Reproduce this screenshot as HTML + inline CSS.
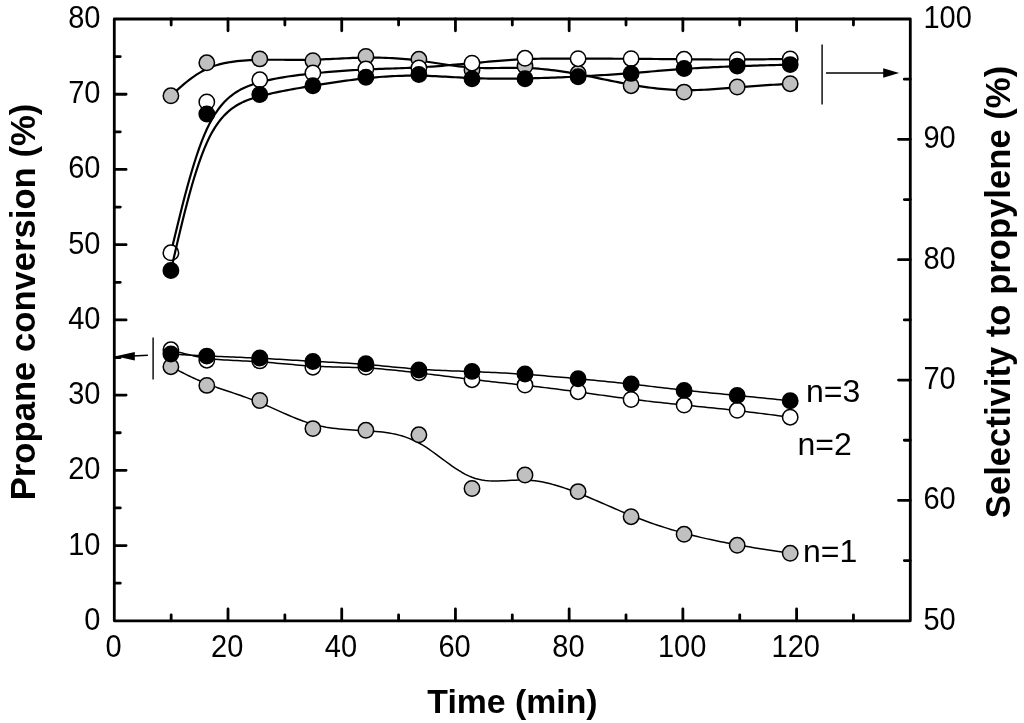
<!DOCTYPE html>
<html lang="en"><head><meta charset="utf-8"><title>Propane conversion and selectivity vs time</title>
<style>html,body{margin:0;padding:0;background:#fff}body{width:1024px;height:723px;overflow:hidden}svg{display:block}text{font-family:"Liberation Sans",Arial,Helvetica,sans-serif;fill:#000}.tk{font-size:29px}.ti{font-size:34.65px;font-weight:bold}.an{font-size:32px}</style></head><body>
<svg width="1024" height="723" viewBox="0 0 1024 723">
<rect width="1024" height="723" fill="#fff"/>
<g id="series">
<path d="M170.90 95.80 L173.14 93.74 L175.39 91.68 L177.65 89.64 L179.92 87.63 L182.21 85.64 L184.51 83.68 L186.85 81.77 L189.21 79.91 L191.60 78.10 L194.03 76.36 L196.51 74.69 L199.03 73.10 L201.60 71.59 L204.23 70.17 L206.91 68.86 L209.66 67.65 L212.47 66.55 L215.34 65.56 L218.28 64.68 L221.26 63.89 L224.30 63.19 L227.39 62.57 L230.51 62.04 L233.68 61.58 L236.87 61.18 L240.10 60.85 L243.35 60.58 L246.62 60.35 L249.91 60.17 L253.21 60.03 L256.52 59.93 L259.84 59.85 L263.15 59.80 L266.47 59.76 L269.78 59.74 L273.10 59.73 L276.41 59.74 L279.73 59.75 L283.04 59.77 L286.35 59.79 L289.67 59.81 L292.98 59.83 L296.30 59.84 L299.61 59.84 L302.93 59.82 L306.24 59.80 L309.56 59.75 L312.87 59.68 L316.19 59.59 L319.50 59.48 L322.82 59.36 L326.13 59.21 L329.45 59.06 L332.76 58.90 L336.08 58.74 L339.39 58.57 L342.71 58.41 L346.02 58.25 L349.34 58.10 L352.65 57.97 L355.96 57.84 L359.28 57.74 L362.59 57.66 L365.91 57.60 L369.22 57.57 L372.54 57.57 L375.85 57.60 L379.17 57.65 L382.48 57.74 L385.80 57.85 L389.11 57.99 L392.43 58.16 L395.74 58.36 L399.06 58.59 L402.37 58.85 L405.69 59.14 L409.00 59.46 L412.32 59.81 L415.63 60.19 L418.95 60.60 L422.26 61.04 L425.58 61.50 L428.89 61.99 L432.20 62.49 L435.52 62.99 L438.83 63.50 L442.15 64.01 L445.46 64.51 L448.78 64.99 L452.09 65.46 L455.41 65.91 L458.72 66.32 L462.04 66.70 L465.35 67.03 L468.67 67.33 L471.98 67.57 L475.30 67.75 L478.61 67.89 L481.93 67.98 L485.24 68.03 L488.56 68.05 L491.87 68.04 L495.19 68.02 L498.50 67.98 L501.81 67.93 L505.13 67.89 L508.44 67.85 L511.76 67.82 L515.07 67.81 L518.39 67.82 L521.70 67.87 L525.02 67.95 L528.33 68.07 L531.65 68.24 L534.96 68.45 L538.28 68.69 L541.59 68.98 L544.91 69.30 L548.22 69.65 L551.54 70.04 L554.85 70.46 L558.17 70.91 L561.48 71.39 L564.80 71.89 L568.11 72.43 L571.43 72.98 L574.74 73.56 L578.05 74.17 L581.37 74.79 L584.68 75.43 L588.00 76.08 L591.31 76.75 L594.63 77.43 L597.94 78.11 L601.26 78.80 L604.57 79.48 L607.89 80.17 L611.20 80.85 L614.52 81.53 L617.83 82.19 L621.15 82.84 L624.46 83.48 L627.78 84.10 L631.09 84.70 L634.41 85.28 L637.72 85.83 L641.04 86.35 L644.35 86.85 L647.66 87.32 L650.98 87.75 L654.29 88.16 L657.61 88.54 L660.92 88.88 L664.24 89.18 L667.55 89.45 L670.87 89.68 L674.18 89.87 L677.50 90.01 L680.81 90.12 L684.13 90.18 L687.44 90.20 L690.76 90.18 L694.07 90.12 L697.39 90.02 L700.70 89.89 L704.02 89.74 L707.33 89.55 L710.65 89.35 L713.96 89.12 L717.28 88.88 L720.59 88.63 L723.90 88.37 L727.22 88.10 L730.53 87.83 L733.85 87.57 L737.16 87.30 L740.48 87.04 L743.79 86.79 L747.11 86.54 L750.42 86.30 L753.74 86.07 L757.05 85.84 L760.37 85.61 L763.68 85.39 L767.00 85.17 L770.31 84.95 L773.63 84.74 L776.94 84.53 L780.26 84.32 L783.57 84.11 L786.89 83.91 L790.20 83.70" fill="none" stroke="#000" stroke-width="2.20" stroke-linejoin="round"/>
<circle cx="170.9" cy="95.8" r="7.70" fill="#c0c0c0" stroke="#000" stroke-width="1.50"/>
<circle cx="206.8" cy="62.8" r="7.70" fill="#c0c0c0" stroke="#000" stroke-width="1.50"/>
<circle cx="259.8" cy="58.9" r="7.70" fill="#c0c0c0" stroke="#000" stroke-width="1.50"/>
<circle cx="312.9" cy="60.7" r="7.70" fill="#c0c0c0" stroke="#000" stroke-width="1.50"/>
<circle cx="365.9" cy="56.4" r="7.70" fill="#c0c0c0" stroke="#000" stroke-width="1.50"/>
<circle cx="418.9" cy="59.3" r="7.70" fill="#c0c0c0" stroke="#000" stroke-width="1.50"/>
<circle cx="472.0" cy="70.0" r="7.70" fill="#c0c0c0" stroke="#000" stroke-width="1.50"/>
<circle cx="525.0" cy="66.1" r="7.70" fill="#c0c0c0" stroke="#000" stroke-width="1.50"/>
<circle cx="578.1" cy="73.3" r="7.70" fill="#c0c0c0" stroke="#000" stroke-width="1.50"/>
<circle cx="631.1" cy="85.7" r="7.70" fill="#c0c0c0" stroke="#000" stroke-width="1.50"/>
<circle cx="684.1" cy="92.1" r="7.70" fill="#c0c0c0" stroke="#000" stroke-width="1.50"/>
<circle cx="737.2" cy="87.0" r="7.70" fill="#c0c0c0" stroke="#000" stroke-width="1.50"/>
<circle cx="790.2" cy="83.7" r="7.70" fill="#c0c0c0" stroke="#000" stroke-width="1.50"/>
<path d="M170.90 366.70 L173.14 367.87 L175.39 369.04 L177.65 370.20 L179.92 371.37 L182.21 372.53 L184.51 373.68 L186.85 374.83 L189.21 375.98 L191.60 377.11 L194.03 378.24 L196.51 379.36 L199.03 380.47 L201.60 381.57 L204.23 382.66 L206.91 383.74 L209.66 384.80 L212.47 385.85 L215.34 386.89 L218.28 387.92 L221.26 388.96 L224.30 389.99 L227.39 391.03 L230.51 392.08 L233.68 393.15 L236.87 394.23 L240.10 395.33 L243.35 396.47 L246.62 397.63 L249.91 398.83 L253.21 400.06 L256.52 401.34 L259.84 402.67 L263.15 404.04 L266.47 405.46 L269.78 406.90 L273.10 408.37 L276.41 409.85 L279.73 411.33 L283.04 412.81 L286.35 414.27 L289.67 415.70 L292.98 417.10 L296.30 418.46 L299.61 419.75 L302.93 420.99 L306.24 422.14 L309.56 423.22 L312.87 424.20 L316.19 425.08 L319.50 425.87 L322.82 426.56 L326.13 427.18 L329.45 427.72 L332.76 428.19 L336.08 428.60 L339.39 428.96 L342.71 429.27 L346.02 429.54 L349.34 429.79 L352.65 430.00 L355.96 430.20 L359.28 430.39 L362.59 430.58 L365.91 430.77 L369.22 430.97 L372.54 431.19 L375.85 431.45 L379.17 431.75 L382.48 432.11 L385.80 432.53 L389.11 433.04 L392.43 433.63 L395.74 434.33 L399.06 435.14 L402.37 436.07 L405.69 437.14 L409.00 438.36 L412.32 439.73 L415.63 441.28 L418.95 443.00 L422.26 444.91 L425.58 446.98 L428.89 449.19 L432.20 451.51 L435.52 453.90 L438.83 456.35 L442.15 458.82 L445.46 461.27 L448.78 463.70 L452.09 466.06 L455.41 468.33 L458.72 470.48 L462.04 472.48 L465.35 474.30 L468.67 475.92 L471.98 477.30 L475.30 478.43 L478.61 479.32 L481.93 479.99 L485.24 480.48 L488.56 480.79 L491.87 480.97 L495.19 481.02 L498.50 480.98 L501.81 480.86 L505.13 480.70 L508.44 480.51 L511.76 480.32 L515.07 480.15 L518.39 480.03 L521.70 479.97 L525.02 480.02 L528.33 480.17 L531.65 480.44 L534.96 480.81 L538.28 481.29 L541.59 481.86 L544.91 482.52 L548.22 483.27 L551.54 484.10 L554.85 485.01 L558.17 485.99 L561.48 487.03 L564.80 488.13 L568.11 489.28 L571.43 490.48 L574.74 491.73 L578.05 493.02 L581.37 494.34 L584.68 495.68 L588.00 497.06 L591.31 498.45 L594.63 499.87 L597.94 501.29 L601.26 502.73 L604.57 504.17 L607.89 505.61 L611.20 507.06 L614.52 508.49 L617.83 509.92 L621.15 511.33 L624.46 512.73 L627.78 514.10 L631.09 515.45 L634.41 516.77 L637.72 518.06 L641.04 519.32 L644.35 520.56 L647.66 521.76 L650.98 522.94 L654.29 524.09 L657.61 525.21 L660.92 526.30 L664.24 527.37 L667.55 528.40 L670.87 529.42 L674.18 530.40 L677.50 531.36 L680.81 532.29 L684.13 533.20 L687.44 534.08 L690.76 534.94 L694.07 535.77 L697.39 536.58 L700.70 537.36 L704.02 538.13 L707.33 538.87 L710.65 539.60 L713.96 540.31 L717.28 540.99 L720.59 541.67 L723.90 542.32 L727.22 542.96 L730.53 543.59 L733.85 544.20 L737.16 544.80 L740.48 545.39 L743.79 545.97 L747.11 546.53 L750.42 547.09 L753.74 547.64 L757.05 548.18 L760.37 548.71 L763.68 549.24 L767.00 549.76 L770.31 550.27 L773.63 550.78 L776.94 551.29 L780.26 551.80 L783.57 552.30 L786.89 552.80 L790.20 553.30" fill="none" stroke="#000" stroke-width="1.50" stroke-linejoin="round"/>
<circle cx="170.9" cy="366.7" r="7.70" fill="#c0c0c0" stroke="#000" stroke-width="1.50"/>
<circle cx="206.8" cy="385.4" r="7.70" fill="#c0c0c0" stroke="#000" stroke-width="1.50"/>
<circle cx="259.8" cy="400.5" r="7.70" fill="#c0c0c0" stroke="#000" stroke-width="1.50"/>
<circle cx="312.9" cy="428.6" r="7.70" fill="#c0c0c0" stroke="#000" stroke-width="1.50"/>
<circle cx="365.9" cy="430.3" r="7.70" fill="#c0c0c0" stroke="#000" stroke-width="1.50"/>
<circle cx="418.9" cy="434.8" r="7.70" fill="#c0c0c0" stroke="#000" stroke-width="1.50"/>
<circle cx="472.0" cy="488.5" r="7.70" fill="#c0c0c0" stroke="#000" stroke-width="1.50"/>
<circle cx="525.0" cy="475.0" r="7.70" fill="#c0c0c0" stroke="#000" stroke-width="1.50"/>
<circle cx="578.1" cy="491.6" r="7.70" fill="#c0c0c0" stroke="#000" stroke-width="1.50"/>
<circle cx="631.1" cy="516.7" r="7.70" fill="#c0c0c0" stroke="#000" stroke-width="1.50"/>
<circle cx="684.1" cy="534.3" r="7.70" fill="#c0c0c0" stroke="#000" stroke-width="1.50"/>
<circle cx="737.2" cy="545.3" r="7.70" fill="#c0c0c0" stroke="#000" stroke-width="1.50"/>
<circle cx="790.2" cy="553.3" r="7.70" fill="#c0c0c0" stroke="#000" stroke-width="1.50"/>
<path d="M170.90 252.80 L173.14 243.37 L175.39 233.98 L177.65 224.65 L179.92 215.41 L182.21 206.30 L184.51 197.34 L186.85 188.58 L189.21 180.03 L191.60 171.74 L194.03 163.73 L196.51 156.03 L199.03 148.68 L201.60 141.71 L204.23 135.14 L206.91 129.02 L209.66 123.37 L212.47 118.21 L215.34 113.52 L218.28 109.29 L221.26 105.47 L224.30 102.05 L227.39 98.99 L230.51 96.27 L233.68 93.85 L236.87 91.72 L240.10 89.84 L243.35 88.19 L246.62 86.74 L249.91 85.45 L253.21 84.31 L256.52 83.29 L259.84 82.35 L263.15 81.48 L266.47 80.66 L269.78 79.90 L273.10 79.18 L276.41 78.52 L279.73 77.90 L283.04 77.32 L286.35 76.78 L289.67 76.27 L292.98 75.80 L296.30 75.35 L299.61 74.94 L302.93 74.54 L306.24 74.17 L309.56 73.81 L312.87 73.47 L316.19 73.13 L319.50 72.81 L322.82 72.50 L326.13 72.20 L329.45 71.92 L332.76 71.64 L336.08 71.37 L339.39 71.12 L342.71 70.88 L346.02 70.65 L349.34 70.43 L352.65 70.22 L355.96 70.02 L359.28 69.84 L362.59 69.66 L365.91 69.50 L369.22 69.35 L372.54 69.21 L375.85 69.08 L379.17 68.95 L382.48 68.83 L385.80 68.71 L389.11 68.60 L392.43 68.48 L395.74 68.37 L399.06 68.25 L402.37 68.12 L405.69 67.99 L409.00 67.85 L412.32 67.70 L415.63 67.54 L418.95 67.37 L422.26 67.18 L425.58 66.98 L428.89 66.76 L432.20 66.53 L435.52 66.29 L438.83 66.04 L442.15 65.79 L445.46 65.52 L448.78 65.24 L452.09 64.96 L455.41 64.68 L458.72 64.38 L462.04 64.09 L465.35 63.79 L468.67 63.49 L471.98 63.18 L475.30 62.88 L478.61 62.58 L481.93 62.28 L485.24 61.98 L488.56 61.69 L491.87 61.41 L495.19 61.13 L498.50 60.86 L501.81 60.60 L505.13 60.35 L508.44 60.12 L511.76 59.90 L515.07 59.69 L518.39 59.50 L521.70 59.33 L525.02 59.18 L528.33 59.05 L531.65 58.94 L534.96 58.85 L538.28 58.77 L541.59 58.71 L544.91 58.66 L548.22 58.63 L551.54 58.60 L554.85 58.59 L558.17 58.58 L561.48 58.58 L564.80 58.59 L568.11 58.60 L571.43 58.61 L574.74 58.62 L578.05 58.63 L581.37 58.65 L584.68 58.66 L588.00 58.66 L591.31 58.67 L594.63 58.68 L597.94 58.69 L601.26 58.70 L604.57 58.70 L607.89 58.71 L611.20 58.72 L614.52 58.73 L617.83 58.74 L621.15 58.75 L624.46 58.77 L627.78 58.78 L631.09 58.80 L634.41 58.82 L637.72 58.84 L641.04 58.87 L644.35 58.89 L647.66 58.92 L650.98 58.95 L654.29 58.98 L657.61 59.01 L660.92 59.04 L664.24 59.07 L667.55 59.10 L670.87 59.14 L674.18 59.17 L677.50 59.20 L680.81 59.24 L684.13 59.27 L687.44 59.30 L690.76 59.33 L694.07 59.36 L697.39 59.38 L700.70 59.41 L704.02 59.43 L707.33 59.45 L710.65 59.47 L713.96 59.49 L717.28 59.50 L720.59 59.51 L723.90 59.52 L727.22 59.52 L730.53 59.52 L733.85 59.51 L737.16 59.50 L740.48 59.49 L743.79 59.47 L747.11 59.44 L750.42 59.42 L753.74 59.39 L757.05 59.35 L760.37 59.31 L763.68 59.28 L767.00 59.23 L770.31 59.19 L773.63 59.14 L776.94 59.10 L780.26 59.05 L783.57 59.00 L786.89 58.95 L790.20 58.90" fill="none" stroke="#000" stroke-width="2.20" stroke-linejoin="round"/>
<circle cx="170.9" cy="252.8" r="7.70" fill="#fff" stroke="#000" stroke-width="1.50"/>
<circle cx="206.8" cy="101.9" r="7.70" fill="#fff" stroke="#000" stroke-width="1.50"/>
<circle cx="259.8" cy="79.8" r="7.70" fill="#fff" stroke="#000" stroke-width="1.50"/>
<circle cx="312.9" cy="73.0" r="7.70" fill="#fff" stroke="#000" stroke-width="1.50"/>
<circle cx="365.9" cy="69.0" r="7.70" fill="#fff" stroke="#000" stroke-width="1.50"/>
<circle cx="418.9" cy="68.0" r="7.70" fill="#fff" stroke="#000" stroke-width="1.50"/>
<circle cx="472.0" cy="63.2" r="7.70" fill="#fff" stroke="#000" stroke-width="1.50"/>
<circle cx="525.0" cy="58.3" r="7.70" fill="#fff" stroke="#000" stroke-width="1.50"/>
<circle cx="578.1" cy="58.7" r="7.70" fill="#fff" stroke="#000" stroke-width="1.50"/>
<circle cx="631.1" cy="58.7" r="7.70" fill="#fff" stroke="#000" stroke-width="1.50"/>
<circle cx="684.1" cy="59.3" r="7.70" fill="#fff" stroke="#000" stroke-width="1.50"/>
<circle cx="737.2" cy="59.7" r="7.70" fill="#fff" stroke="#000" stroke-width="1.50"/>
<circle cx="790.2" cy="58.9" r="7.70" fill="#fff" stroke="#000" stroke-width="1.50"/>
<path d="M170.90 349.80 L173.14 350.45 L175.39 351.10 L177.65 351.74 L179.92 352.37 L182.21 353.00 L184.51 353.61 L186.85 354.21 L189.21 354.80 L191.60 355.36 L194.03 355.91 L196.51 356.42 L199.03 356.92 L201.60 357.38 L204.23 357.82 L206.91 358.22 L209.66 358.58 L212.47 358.91 L215.34 359.21 L218.28 359.47 L221.26 359.71 L224.30 359.92 L227.39 360.12 L230.51 360.30 L233.68 360.46 L236.87 360.62 L240.10 360.78 L243.35 360.94 L246.62 361.09 L249.91 361.26 L253.21 361.43 L256.52 361.62 L259.84 361.83 L263.15 362.06 L266.47 362.31 L269.78 362.57 L273.10 362.85 L276.41 363.14 L279.73 363.43 L283.04 363.73 L286.35 364.03 L289.67 364.33 L292.98 364.62 L296.30 364.91 L299.61 365.18 L302.93 365.44 L306.24 365.69 L309.56 365.91 L312.87 366.12 L316.19 366.30 L319.50 366.45 L322.82 366.59 L326.13 366.71 L329.45 366.82 L332.76 366.91 L336.08 367.00 L339.39 367.09 L342.71 367.17 L346.02 367.26 L349.34 367.35 L352.65 367.45 L355.96 367.56 L359.28 367.68 L362.59 367.82 L365.91 367.98 L369.22 368.17 L372.54 368.37 L375.85 368.60 L379.17 368.84 L382.48 369.11 L385.80 369.39 L389.11 369.69 L392.43 370.00 L395.74 370.33 L399.06 370.67 L402.37 371.02 L405.69 371.38 L409.00 371.75 L412.32 372.13 L415.63 372.52 L418.95 372.92 L422.26 373.32 L425.58 373.72 L428.89 374.13 L432.20 374.54 L435.52 374.95 L438.83 375.36 L442.15 375.78 L445.46 376.19 L448.78 376.61 L452.09 377.02 L455.41 377.43 L458.72 377.84 L462.04 378.25 L465.35 378.65 L468.67 379.04 L471.98 379.43 L475.30 379.82 L478.61 380.20 L481.93 380.57 L485.24 380.94 L488.56 381.31 L491.87 381.67 L495.19 382.03 L498.50 382.39 L501.81 382.75 L505.13 383.11 L508.44 383.47 L511.76 383.83 L515.07 384.19 L518.39 384.56 L521.70 384.93 L525.02 385.30 L528.33 385.68 L531.65 386.06 L534.96 386.45 L538.28 386.84 L541.59 387.23 L544.91 387.63 L548.22 388.04 L551.54 388.45 L554.85 388.86 L558.17 389.28 L561.48 389.71 L564.80 390.14 L568.11 390.57 L571.43 391.01 L574.74 391.45 L578.05 391.90 L581.37 392.35 L584.68 392.81 L588.00 393.27 L591.31 393.73 L594.63 394.19 L597.94 394.65 L601.26 395.12 L604.57 395.58 L607.89 396.04 L611.20 396.50 L614.52 396.95 L617.83 397.40 L621.15 397.84 L624.46 398.28 L627.78 398.71 L631.09 399.13 L634.41 399.55 L637.72 399.95 L641.04 400.35 L644.35 400.74 L647.66 401.13 L650.98 401.51 L654.29 401.88 L657.61 402.25 L660.92 402.61 L664.24 402.96 L667.55 403.32 L670.87 403.67 L674.18 404.01 L677.50 404.35 L680.81 404.69 L684.13 405.03 L687.44 405.37 L690.76 405.71 L694.07 406.04 L697.39 406.38 L700.70 406.71 L704.02 407.05 L707.33 407.39 L710.65 407.73 L713.96 408.07 L717.28 408.42 L720.59 408.77 L723.90 409.12 L727.22 409.48 L730.53 409.84 L733.85 410.21 L737.16 410.58 L740.48 410.96 L743.79 411.35 L747.11 411.75 L750.42 412.14 L753.74 412.55 L757.05 412.96 L760.37 413.37 L763.68 413.79 L767.00 414.20 L770.31 414.63 L773.63 415.05 L776.94 415.48 L780.26 415.91 L783.57 416.34 L786.89 416.77 L790.20 417.20" fill="none" stroke="#000" stroke-width="1.50" stroke-linejoin="round"/>
<circle cx="170.9" cy="349.8" r="7.70" fill="#fff" stroke="#000" stroke-width="1.50"/>
<circle cx="206.8" cy="360.2" r="7.70" fill="#fff" stroke="#000" stroke-width="1.50"/>
<circle cx="259.8" cy="360.9" r="7.70" fill="#fff" stroke="#000" stroke-width="1.50"/>
<circle cx="312.9" cy="367.2" r="7.70" fill="#fff" stroke="#000" stroke-width="1.50"/>
<circle cx="365.9" cy="367.0" r="7.70" fill="#fff" stroke="#000" stroke-width="1.50"/>
<circle cx="418.9" cy="372.7" r="7.70" fill="#fff" stroke="#000" stroke-width="1.50"/>
<circle cx="472.0" cy="379.7" r="7.70" fill="#fff" stroke="#000" stroke-width="1.50"/>
<circle cx="525.0" cy="385.1" r="7.70" fill="#fff" stroke="#000" stroke-width="1.50"/>
<circle cx="578.1" cy="391.7" r="7.70" fill="#fff" stroke="#000" stroke-width="1.50"/>
<circle cx="631.1" cy="399.5" r="7.70" fill="#fff" stroke="#000" stroke-width="1.50"/>
<circle cx="684.1" cy="405.1" r="7.70" fill="#fff" stroke="#000" stroke-width="1.50"/>
<circle cx="737.2" cy="410.3" r="7.70" fill="#fff" stroke="#000" stroke-width="1.50"/>
<circle cx="790.2" cy="417.2" r="7.70" fill="#fff" stroke="#000" stroke-width="1.50"/>
<path d="M170.90 270.50 L173.14 260.72 L175.39 250.98 L177.65 241.31 L179.92 231.73 L182.21 222.29 L184.51 213.02 L186.85 203.94 L189.21 195.10 L191.60 186.53 L194.03 178.26 L196.51 170.33 L199.03 162.76 L201.60 155.59 L204.23 148.86 L206.91 142.60 L209.66 136.83 L212.47 131.60 L215.34 126.86 L218.28 122.60 L221.26 118.79 L224.30 115.38 L227.39 112.36 L230.51 109.68 L233.68 107.33 L236.87 105.26 L240.10 103.45 L243.35 101.87 L246.62 100.48 L249.91 99.26 L253.21 98.18 L256.52 97.19 L259.84 96.28 L263.15 95.42 L266.47 94.59 L269.78 93.81 L273.10 93.05 L276.41 92.33 L279.73 91.64 L283.04 90.97 L286.35 90.33 L289.67 89.71 L292.98 89.11 L296.30 88.53 L299.61 87.96 L302.93 87.40 L306.24 86.85 L309.56 86.31 L312.87 85.77 L316.19 85.23 L319.50 84.70 L322.82 84.17 L326.13 83.64 L329.45 83.13 L332.76 82.62 L336.08 82.12 L339.39 81.62 L342.71 81.15 L346.02 80.68 L349.34 80.23 L352.65 79.79 L355.96 79.38 L359.28 78.98 L362.59 78.59 L365.91 78.23 L369.22 77.89 L372.54 77.58 L375.85 77.28 L379.17 77.01 L382.48 76.76 L385.80 76.54 L389.11 76.34 L392.43 76.16 L395.74 76.01 L399.06 75.89 L402.37 75.79 L405.69 75.71 L409.00 75.67 L412.32 75.64 L415.63 75.65 L418.95 75.68 L422.26 75.74 L425.58 75.83 L428.89 75.94 L432.20 76.06 L435.52 76.21 L438.83 76.36 L442.15 76.53 L445.46 76.71 L448.78 76.89 L452.09 77.07 L455.41 77.26 L458.72 77.44 L462.04 77.62 L465.35 77.78 L468.67 77.94 L471.98 78.08 L475.30 78.21 L478.61 78.32 L481.93 78.41 L485.24 78.49 L488.56 78.56 L491.87 78.61 L495.19 78.64 L498.50 78.67 L501.81 78.68 L505.13 78.68 L508.44 78.66 L511.76 78.64 L515.07 78.61 L518.39 78.56 L521.70 78.51 L525.02 78.45 L528.33 78.38 L531.65 78.30 L534.96 78.22 L538.28 78.12 L541.59 78.02 L544.91 77.92 L548.22 77.80 L551.54 77.68 L554.85 77.55 L558.17 77.42 L561.48 77.28 L564.80 77.14 L568.11 76.98 L571.43 76.83 L574.74 76.67 L578.05 76.50 L581.37 76.33 L584.68 76.15 L588.00 75.97 L591.31 75.79 L594.63 75.60 L597.94 75.40 L601.26 75.20 L604.57 74.99 L607.89 74.78 L611.20 74.56 L614.52 74.34 L617.83 74.11 L621.15 73.87 L624.46 73.63 L627.78 73.39 L631.09 73.13 L634.41 72.87 L637.72 72.61 L641.04 72.34 L644.35 72.07 L647.66 71.79 L650.98 71.52 L654.29 71.24 L657.61 70.97 L660.92 70.70 L664.24 70.43 L667.55 70.16 L670.87 69.90 L674.18 69.64 L677.50 69.39 L680.81 69.15 L684.13 68.92 L687.44 68.69 L690.76 68.48 L694.07 68.27 L697.39 68.08 L700.70 67.89 L704.02 67.71 L707.33 67.54 L710.65 67.37 L713.96 67.21 L717.28 67.06 L720.59 66.91 L723.90 66.77 L727.22 66.63 L730.53 66.50 L733.85 66.37 L737.16 66.25 L740.48 66.13 L743.79 66.01 L747.11 65.90 L750.42 65.79 L753.74 65.68 L757.05 65.57 L760.37 65.47 L763.68 65.37 L767.00 65.27 L770.31 65.17 L773.63 65.07 L776.94 64.98 L780.26 64.88 L783.57 64.79 L786.89 64.69 L790.20 64.60" fill="none" stroke="#000" stroke-width="2.20" stroke-linejoin="round"/>
<circle cx="170.9" cy="270.5" r="7.70" fill="#000" stroke="#000" stroke-width="1.50"/>
<circle cx="206.8" cy="114.0" r="7.70" fill="#000" stroke="#000" stroke-width="1.50"/>
<circle cx="259.8" cy="94.5" r="7.70" fill="#000" stroke="#000" stroke-width="1.50"/>
<circle cx="312.9" cy="85.7" r="7.70" fill="#000" stroke="#000" stroke-width="1.50"/>
<circle cx="365.9" cy="77.3" r="7.70" fill="#000" stroke="#000" stroke-width="1.50"/>
<circle cx="418.9" cy="74.5" r="7.70" fill="#000" stroke="#000" stroke-width="1.50"/>
<circle cx="472.0" cy="78.8" r="7.70" fill="#000" stroke="#000" stroke-width="1.50"/>
<circle cx="525.0" cy="78.8" r="7.70" fill="#000" stroke="#000" stroke-width="1.50"/>
<circle cx="578.1" cy="76.7" r="7.70" fill="#000" stroke="#000" stroke-width="1.50"/>
<circle cx="631.1" cy="73.4" r="7.70" fill="#000" stroke="#000" stroke-width="1.50"/>
<circle cx="684.1" cy="68.5" r="7.70" fill="#000" stroke="#000" stroke-width="1.50"/>
<circle cx="737.2" cy="66.1" r="7.70" fill="#000" stroke="#000" stroke-width="1.50"/>
<circle cx="790.2" cy="64.6" r="7.70" fill="#000" stroke="#000" stroke-width="1.50"/>
<path d="M170.90 354.00 L173.14 354.13 L175.39 354.26 L177.65 354.39 L179.92 354.52 L182.21 354.66 L184.51 354.79 L186.85 354.92 L189.21 355.05 L191.60 355.18 L194.03 355.30 L196.51 355.43 L199.03 355.56 L201.60 355.69 L204.23 355.82 L206.91 355.94 L209.66 356.07 L212.47 356.19 L215.34 356.32 L218.28 356.44 L221.26 356.57 L224.30 356.69 L227.39 356.82 L230.51 356.95 L233.68 357.08 L236.87 357.21 L240.10 357.35 L243.35 357.49 L246.62 357.64 L249.91 357.79 L253.21 357.94 L256.52 358.10 L259.84 358.27 L263.15 358.44 L266.47 358.62 L269.78 358.80 L273.10 358.98 L276.41 359.17 L279.73 359.37 L283.04 359.56 L286.35 359.76 L289.67 359.96 L292.98 360.15 L296.30 360.35 L299.61 360.54 L302.93 360.74 L306.24 360.93 L309.56 361.12 L312.87 361.30 L316.19 361.48 L319.50 361.65 L322.82 361.83 L326.13 362.00 L329.45 362.17 L332.76 362.35 L336.08 362.53 L339.39 362.71 L342.71 362.89 L346.02 363.09 L349.34 363.29 L352.65 363.50 L355.96 363.72 L359.28 363.95 L362.59 364.19 L365.91 364.45 L369.22 364.72 L372.54 365.01 L375.85 365.31 L379.17 365.61 L382.48 365.92 L385.80 366.24 L389.11 366.56 L392.43 366.88 L395.74 367.20 L399.06 367.51 L402.37 367.82 L405.69 368.12 L409.00 368.41 L412.32 368.69 L415.63 368.95 L418.95 369.20 L422.26 369.43 L425.58 369.64 L428.89 369.83 L432.20 370.02 L435.52 370.18 L438.83 370.34 L442.15 370.49 L445.46 370.62 L448.78 370.76 L452.09 370.88 L455.41 371.00 L458.72 371.12 L462.04 371.24 L465.35 371.36 L468.67 371.48 L471.98 371.60 L475.30 371.73 L478.61 371.86 L481.93 372.00 L485.24 372.14 L488.56 372.29 L491.87 372.44 L495.19 372.60 L498.50 372.77 L501.81 372.94 L505.13 373.12 L508.44 373.31 L511.76 373.50 L515.07 373.70 L518.39 373.91 L521.70 374.13 L525.02 374.35 L528.33 374.58 L531.65 374.82 L534.96 375.07 L538.28 375.32 L541.59 375.59 L544.91 375.85 L548.22 376.13 L551.54 376.40 L554.85 376.69 L558.17 376.98 L561.48 377.27 L564.80 377.57 L568.11 377.87 L571.43 378.17 L574.74 378.47 L578.05 378.78 L581.37 379.09 L584.68 379.41 L588.00 379.72 L591.31 380.04 L594.63 380.36 L597.94 380.68 L601.26 381.01 L604.57 381.34 L607.89 381.67 L611.20 382.01 L614.52 382.35 L617.83 382.69 L621.15 383.04 L624.46 383.40 L627.78 383.75 L631.09 384.12 L634.41 384.48 L637.72 384.86 L641.04 385.23 L644.35 385.61 L647.66 385.99 L650.98 386.38 L654.29 386.76 L657.61 387.15 L660.92 387.53 L664.24 387.91 L667.55 388.29 L670.87 388.67 L674.18 389.05 L677.50 389.42 L680.81 389.79 L684.13 390.15 L687.44 390.51 L690.76 390.86 L694.07 391.20 L697.39 391.55 L700.70 391.88 L704.02 392.22 L707.33 392.55 L710.65 392.88 L713.96 393.20 L717.28 393.53 L720.59 393.85 L723.90 394.17 L727.22 394.50 L730.53 394.82 L733.85 395.14 L737.16 395.47 L740.48 395.79 L743.79 396.12 L747.11 396.45 L750.42 396.78 L753.74 397.11 L757.05 397.44 L760.37 397.77 L763.68 398.11 L767.00 398.44 L770.31 398.78 L773.63 399.11 L776.94 399.45 L780.26 399.79 L783.57 400.13 L786.89 400.46 L790.20 400.80" fill="none" stroke="#000" stroke-width="1.50" stroke-linejoin="round"/>
<circle cx="170.9" cy="354.0" r="7.70" fill="#000" stroke="#000" stroke-width="1.50"/>
<circle cx="206.8" cy="356.1" r="7.70" fill="#000" stroke="#000" stroke-width="1.50"/>
<circle cx="259.8" cy="358.0" r="7.70" fill="#000" stroke="#000" stroke-width="1.50"/>
<circle cx="312.9" cy="361.5" r="7.70" fill="#000" stroke="#000" stroke-width="1.50"/>
<circle cx="365.9" cy="363.8" r="7.70" fill="#000" stroke="#000" stroke-width="1.50"/>
<circle cx="418.9" cy="370.0" r="7.70" fill="#000" stroke="#000" stroke-width="1.50"/>
<circle cx="472.0" cy="371.4" r="7.70" fill="#000" stroke="#000" stroke-width="1.50"/>
<circle cx="525.0" cy="374.0" r="7.70" fill="#000" stroke="#000" stroke-width="1.50"/>
<circle cx="578.1" cy="378.7" r="7.70" fill="#000" stroke="#000" stroke-width="1.50"/>
<circle cx="631.1" cy="383.9" r="7.70" fill="#000" stroke="#000" stroke-width="1.50"/>
<circle cx="684.1" cy="390.4" r="7.70" fill="#000" stroke="#000" stroke-width="1.50"/>
<circle cx="737.2" cy="395.4" r="7.70" fill="#000" stroke="#000" stroke-width="1.50"/>
<circle cx="790.2" cy="400.8" r="7.70" fill="#000" stroke="#000" stroke-width="1.50"/>
</g>
<g id="axes" stroke="#000" stroke-width="2.80" fill="none" stroke-linecap="round" stroke-linejoin="round">
<rect x="114.30" y="19.00" width="796.00" height="601.80"/>
<path d="M171.16 620.80 v-6.00 M171.16 19.00 v6.00 M228.01 620.80 v-11.80 M228.01 19.00 v11.80 M284.87 620.80 v-6.00 M284.87 19.00 v6.00 M341.73 620.80 v-11.80 M341.73 19.00 v11.80 M398.59 620.80 v-6.00 M398.59 19.00 v6.00 M455.44 620.80 v-11.80 M455.44 19.00 v11.80 M512.30 620.80 v-6.00 M512.30 19.00 v6.00 M569.16 620.80 v-11.80 M569.16 19.00 v11.80 M626.01 620.80 v-6.00 M626.01 19.00 v6.00 M682.87 620.80 v-11.80 M682.87 19.00 v11.80 M739.73 620.80 v-6.00 M739.73 19.00 v6.00 M796.59 620.80 v-11.80 M796.59 19.00 v11.80 M853.44 620.80 v-6.00 M853.44 19.00 v6.00 M114.30 583.19 h6.00 M114.30 545.57 h11.80 M114.30 507.96 h6.00 M114.30 470.35 h11.80 M114.30 432.74 h6.00 M114.30 395.12 h11.80 M114.30 357.51 h6.00 M114.30 319.90 h11.80 M114.30 282.29 h6.00 M114.30 244.68 h11.80 M114.30 207.06 h6.00 M114.30 169.45 h11.80 M114.30 131.84 h6.00 M114.30 94.23 h11.80 M114.30 56.61 h6.00 M910.30 560.62 h-6.00 M910.30 500.44 h-11.80 M910.30 440.26 h-6.00 M910.30 380.08 h-11.80 M910.30 319.90 h-6.00 M910.30 259.72 h-11.80 M910.30 199.54 h-6.00 M910.30 139.36 h-11.80 M910.30 79.18 h-6.00"/>
</g>
<g class="tk">
<text transform="translate(100.5 629.8) scale(1 1.060)" text-anchor="end">0</text>
<text transform="translate(100.5 554.6) scale(1 1.060)" text-anchor="end">10</text>
<text transform="translate(100.5 479.3) scale(1 1.060)" text-anchor="end">20</text>
<text transform="translate(100.5 404.1) scale(1 1.060)" text-anchor="end">30</text>
<text transform="translate(100.5 328.9) scale(1 1.060)" text-anchor="end">40</text>
<text transform="translate(100.5 253.7) scale(1 1.060)" text-anchor="end">50</text>
<text transform="translate(100.5 178.4) scale(1 1.060)" text-anchor="end">60</text>
<text transform="translate(100.5 103.2) scale(1 1.060)" text-anchor="end">70</text>
<text transform="translate(100.5 28.0) scale(1 1.060)" text-anchor="end">80</text>
<text transform="translate(923.5 629.8) scale(1 1.060)">50</text>
<text transform="translate(923.5 509.4) scale(1 1.060)">60</text>
<text transform="translate(923.5 389.1) scale(1 1.060)">70</text>
<text transform="translate(923.5 268.7) scale(1 1.060)">80</text>
<text transform="translate(923.5 148.4) scale(1 1.060)">90</text>
<text transform="translate(923.5 28.0) scale(1 1.060)">100</text>
<text transform="translate(113.5 657) scale(1 1.060)" text-anchor="middle">0</text>
<text transform="translate(227.2 657) scale(1 1.060)" text-anchor="middle">20</text>
<text transform="translate(340.9 657) scale(1 1.060)" text-anchor="middle">40</text>
<text transform="translate(454.6 657) scale(1 1.060)" text-anchor="middle">60</text>
<text transform="translate(568.4 657) scale(1 1.060)" text-anchor="middle">80</text>
<text transform="translate(682.1 657) scale(1 1.060)" text-anchor="middle">100</text>
<text transform="translate(795.8 657) scale(1 1.060)" text-anchor="middle">120</text>
</g>
<text x="512.5" y="712.6" text-anchor="middle" style="font-size:33.8px;font-weight:bold">Time (min)</text>
<text class="ti" transform="translate(35.4 302) rotate(-90)" text-anchor="middle">Propane conversion (%)</text>
<text class="ti" transform="translate(1010.4 292) rotate(-90)" text-anchor="middle">Selectivity to propylene (%)</text>
<g class="an">
<text x="806" y="402.2">n=3</text>
<text x="797.4" y="455">n=2</text>
<text x="803" y="561.8">n=1</text>
</g>
<g stroke="#000" stroke-width="1.4" fill="none">
<path d="M822.1 44.6 V104.6"/>
<path d="M826 73 H885"/>
<path d="M153.1 337.5 V379.4"/>
<path d="M147.9 355.2 L133 356"/>
</g>
<path d="M899.2 73 L883.2 68.3 L883.2 77.7 Z" fill="#000"/>
<path d="M115.6 356.3 L134.8 351.9 L134.8 360.4 Z" fill="#000"/>
</svg></body></html>
